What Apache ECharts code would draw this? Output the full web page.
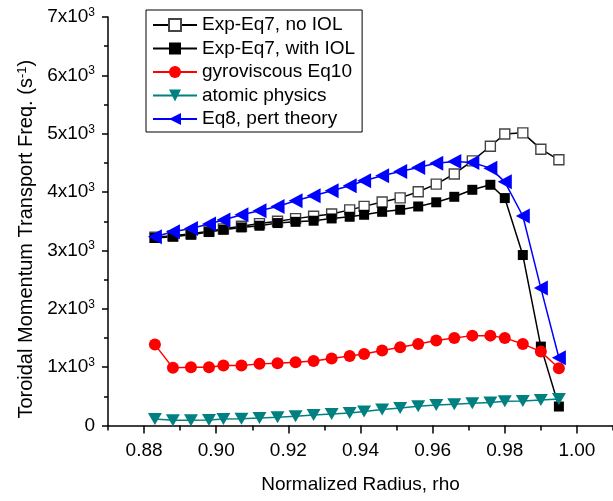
<!DOCTYPE html>
<html>
<head>
<meta charset="utf-8">
<script src="https://cdn.jsdelivr.net/npm/echarts@6/dist/echarts.min.js"></script>
<style>
html, body { margin: 0; padding: 0; background: #fff; }
#main { width: 613px; height: 501px; }
</style>
</head>
<body>
<div id="main"></div>
<script>
// normalized radius grid (shared by all curves)
const rho = [0.883, 0.888, 0.893, 0.898, 0.902, 0.907, 0.912, 0.917, 0.922, 0.927, 0.932, 0.937,
    0.941, 0.946, 0.951, 0.956, 0.961, 0.966, 0.971, 0.976, 0.980, 0.985, 0.990, 0.995];

const noIol = [3225, 3250, 3285, 3330, 3370, 3415, 3460, 3500, 3545, 3585, 3625, 3695,
    3755, 3830, 3900, 4005, 4137, 4310, 4535, 4785, 4995, 5015, 4735, 4553];
const withIol = [3213, 3235, 3269, 3315, 3354, 3394, 3423, 3469, 3490, 3509, 3548, 3577,
    3611, 3662, 3697, 3753, 3825, 3919, 4039, 4125, 3897, 2921, 1352, 325];
const gyro = [1386, 988, 998, 998, 1027, 1027, 1056, 1066, 1083, 1107, 1147, 1190,
    1227, 1284, 1340, 1398, 1455, 1501, 1540, 1540, 1501, 1398, 1266, 981];
const atomic = [110, 90, 90, 95, 110, 115, 130, 140, 160, 180, 195, 215,
    240, 275, 300, 330, 350, 365, 380, 395, 415, 420, 435, 455];
const eq8 = [3235, 3320, 3377, 3452, 3520, 3611, 3680, 3753, 3850, 3936, 4022, 4107,
    4193, 4279, 4352, 4421, 4495, 4524, 4507, 4410, 4175, 3590, 2355, 1160];

const xMajor = [0.88, 0.90, 0.92, 0.94, 0.96, 0.98, 1.00];
const xMinor = [0.87, 0.89, 0.91, 0.93, 0.95, 0.97, 0.99, 1.01];
const seriesNames = ['Exp-Eq7, no IOL', 'Exp-Eq7, with IOL', 'gyroviscous Eq10', 'atomic physics', 'Eq8, pert theory'];

const FONT = '"Liberation Sans", Arial, Helvetica, sans-serif';

function pairs(ys) {
    return ys.map((y, i) => [rho[i], y]);
}

let option = {
    animation: false,
    backgroundColor: '#fff',
    textStyle: { fontFamily: FONT },
    grid: {
        left: 108,
        right: 0,
        top: 17,
        bottom: 75.5,
        outerBoundsMode: 'none',
    },
    legend: {
        orient: 'vertical',
        left: 146,
        top: 10,
        padding: [5, 7, 3, 6],
        borderColor: '#000',
        borderWidth: 1,
        itemWidth: 44,
        itemHeight: 15,
        itemGap: 3.5,
        textStyle: {
            fontFamily: FONT,
            fontSize: 19,
            color: '#000',
            lineHeight: 20,
        },
        data: seriesNames,
    },
    xAxis: [
        {
            type: 'value',
            min: 0.87,
            max: 1.01,
            position: 'bottom',
            name: 'Normalized Radius, rho',
            nameLocation: 'middle',
            nameGap: 50,
            nameTextStyle: { fontFamily: FONT, fontSize: 19, color: '#000' },
            axisLine: { lineStyle: { color: '#000', width: 1.5 } },
            axisTick: {
                customValues: xMajor,
                length: 8,
                lineStyle: { color: '#000', width: 1.5 },
            },
            axisLabel: {
                customValues: xMajor,
                margin: 16,
                fontFamily: FONT,
                fontSize: 19,
                color: '#000',
                formatter: v => v.toFixed(2),
            },
            splitLine: { show: false },
        },
        {
            type: 'value',
            min: 0.87,
            max: 1.01,
            position: 'bottom',
            axisLine: { show: false },
            axisTick: {
                customValues: xMinor,
                length: 5,
                lineStyle: { color: '#000', width: 1.5 },
            },
            axisLabel: { show: false },
            splitLine: { show: false },
        },
    ],
    yAxis: {
        type: 'value',
        min: 0,
        max: 7000,
        interval: 1000,
        name: 'Toroidal Momentum Transport Freq. (s{s|-1})',
        nameLocation: 'middle',
        nameGap: 72,
        nameTextStyle: {
            fontFamily: FONT,
            fontSize: 20,
            color: '#000',
            padding: [0, 36, 0, 0],
            rich: {
                s: { fontFamily: FONT, fontSize: 13, color: '#000', verticalAlign: 'top', padding: [0, 0, 6, 0] },
            },
        },
        axisLine: { show: true, lineStyle: { color: '#000', width: 1.5 } },
        axisTick: { show: true, length: 6, lineStyle: { color: '#000', width: 1.5 } },
        minorTick: { show: true, splitNumber: 2, length: 4, lineStyle: { color: '#000', width: 1.5 } },
        axisLabel: {
            margin: 13,
            formatter: v => (v === 0 ? '{b|0}' : '{b|' + v / 1000 + 'x10}{s|3}'),
            rich: {
                b: { fontFamily: FONT, fontSize: 19, color: '#000', lineHeight: 21 },
                s: { fontFamily: FONT, fontSize: 12, color: '#000', verticalAlign: 'top', lineHeight: 12 },
            },
        },
        splitLine: { show: false },
    },
    series: [
        {
            name: seriesNames[0],
            type: 'line',
            data: pairs(noIol),
            symbol: 'rect',
            symbolSize: 10,
            showAllSymbol: true,
            lineStyle: { color: '#000', width: 1.5 },
            itemStyle: { color: '#fff', borderColor: '#444', borderWidth: 1.4 },
        },
        {
            name: seriesNames[1],
            type: 'line',
            data: pairs(withIol),
            symbol: 'rect',
            symbolSize: 10,
            showAllSymbol: true,
            lineStyle: { color: '#000', width: 1.5 },
            itemStyle: { color: '#000' },
        },
        {
            name: seriesNames[2],
            type: 'line',
            data: pairs(gyro),
            symbol: 'circle',
            symbolSize: 12,
            showAllSymbol: true,
            lineStyle: { color: '#ff0000', width: 1.5 },
            itemStyle: { color: '#ff0000' },
        },
        {
            name: seriesNames[3],
            type: 'line',
            data: pairs(atomic),
            symbol: 'triangle',
            symbolRotate: 180,
            symbolSize: [14, 12],
            showAllSymbol: true,
            lineStyle: { color: '#008080', width: 1.5 },
            itemStyle: { color: '#008080' },
        },
        {
            name: seriesNames[4],
            type: 'line',
            data: pairs(eq8),
            symbol: 'triangle',
            symbolRotate: 90,
            symbolSize: [15, 14],
            showAllSymbol: true,
            lineStyle: { color: '#0000ff', width: 1.5 },
            itemStyle: { color: '#0000ff' },
        },
    ],
};

let chart = echarts.init(document.getElementById('main'));
chart.setOption(option);
window.addEventListener('resize', () => {
    chart.resize();
});
</script>
</body>
</html>
